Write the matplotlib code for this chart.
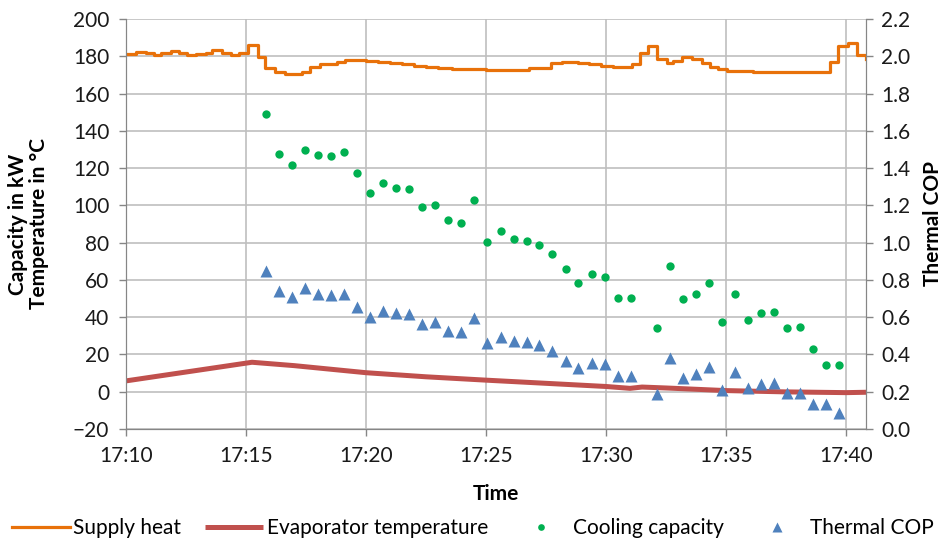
import matplotlib
matplotlib.use("Agg")
import matplotlib.pyplot as plt
import numpy as np

plt.rcParams['font.family'] = ['Lato', 'DejaVu Sans']

# minutes after 17:10
heat_t = [0.0, 0.40, 0.82, 1.17, 1.44, 1.86, 2.21, 2.56, 2.90, 3.32, 3.60, 4.01, 4.36, 4.71,
          5.08, 5.51, 5.80, 6.22, 6.64, 7.33, 7.67, 8.08, 8.78, 9.13, 10.0, 10.5, 11.0, 11.5,
          12.0, 12.5, 13.0, 13.6, 14.3, 15.0, 16.1, 16.8, 17.7, 18.15, 18.85, 19.3, 19.8,
          20.3, 20.86, 21.07, 21.4, 21.76, 22.11, 22.53, 22.81, 23.15, 23.57, 23.99, 24.33,
          24.68, 25.03, 26.14, 29.33, 29.68, 30.1, 30.44, 30.83]
heat_kw = [181.0, 182.5, 182.0, 180.7, 181.6, 183.0, 182.0, 180.7, 181.4, 182.0, 183.2, 182.0,
           180.9, 182.0, 186.0, 179.4, 173.5, 171.5, 170.5, 171.3, 174.4, 175.8, 177.0, 178.0,
           177.6, 177.0, 176.3, 175.6, 175.0, 174.2, 173.8, 173.3, 173.0, 172.8, 172.6, 173.8,
           176.2, 177.1, 176.5, 175.6, 175.0, 174.5, 174.0, 175.8, 181.9, 185.6, 178.3, 176.2,
           177.6, 179.7, 178.3, 176.2, 174.4, 173.0, 171.9, 171.3, 177.0, 185.5, 186.9, 180.6,
           178.8]

evap_t = [0.0, 5.25, 7.0, 10.0, 12.5, 15.0, 17.5, 20.0, 21.0, 21.5, 22.5, 25.0, 27.5, 30.0, 30.83]
evap_c = [5.8, 15.8, 14.0, 10.2, 8.0, 6.2, 4.5, 2.8, 1.8, 2.5, 2.0, 0.6, -0.1, -0.5, -0.3]

meas_t = [5.83, 6.39, 6.93, 7.47, 8.01, 8.54, 9.10, 9.64, 10.18, 10.72, 11.26, 11.81, 12.35,
          12.89, 13.43, 13.97, 14.51, 15.05, 15.61, 16.15, 16.70, 17.22, 17.76, 18.32, 18.85,
          19.40, 19.95, 20.49, 21.03, 22.11, 22.65, 23.20, 23.74, 24.28, 24.82, 25.36, 25.90,
          26.45, 26.99, 27.53, 28.07, 28.61, 29.17, 29.71]
cooling_kw = [148.8, 127.4, 121.5, 129.5, 127.2, 126.4, 128.8, 117.3, 106.8, 112.1, 109.3,
              108.6, 98.9, 100.0, 92.3, 90.3, 103.0, 80.6, 86.3, 81.9, 81.0, 78.8, 74.0, 65.7,
              58.5, 63.0, 61.4, 50.3, 50.3, 34.2, 67.3, 49.7, 52.6, 58.2, 37.2, 52.4, 38.3,
              42.2, 42.8, 34.2, 34.5, 23.1, 14.2, 14.2]
cop = [0.849, 0.742, 0.71, 0.755, 0.726, 0.717, 0.722, 0.654, 0.599, 0.633, 0.62, 0.618, 0.563,
       0.572, 0.527, 0.519, 0.594, 0.461, 0.495, 0.47, 0.465, 0.449, 0.418, 0.366, 0.327,
       0.356, 0.349, 0.284, 0.284, 0.188, 0.381, 0.272, 0.295, 0.331, 0.209, 0.304, 0.218,
       0.243, 0.245, 0.193, 0.195, 0.132, 0.132, 0.084]

xticks = [0, 5, 10, 15, 20, 25, 30]
xlabels = ["17:10", "17:15", "17:20", "17:25", "17:30", "17:35", "17:40"]

fig = plt.figure(figsize=(9.45, 5.4), dpi=100)
ax = fig.add_axes([0.1333, 0.2056, 0.7831, 0.7592])
ax2 = ax.twinx()

grid_c = "#BFBFBF"
ax.set_axisbelow(True)
ax.grid(True, color=grid_c, lw=1.2)

l1, = ax.step(heat_t, heat_kw, where="post", color="#E8710A", lw=2.3, label="Supply heat")
l2, = ax.plot(evap_t, evap_c, color="#C0504D", lw=3.6, label="Evaporator temperature",
              solid_capstyle="butt")
l3, = ax.plot(meas_t, cooling_kw, "o", color="#00B050", ms=6, mec="none", label="Cooling capacity")
l4, = ax2.plot(meas_t, cop, "^", color="#4F81BD", ms=9, mec="none", label="Thermal COP")

ax.set_xlim(0, 30.83)
ax.set_ylim(-20, 200)
ax.set_yticks(np.arange(-20, 201, 20))
ax2.set_ylim(0, 2.2)
ax2.set_yticks(np.arange(0, 2.21, 0.2))
ax2.set_yticklabels([f"{v:.1f}" for v in np.arange(0, 2.21, 0.2)])
ax.set_xticks(xticks)
ax.set_xticklabels(xlabels)

for a in (ax, ax2):
    for s in a.spines.values():
        s.set_color("#868686")
    a.tick_params(colors="#868686", labelcolor="#1a1a1a", labelsize=15, length=5, width=1)
ax.spines["top"].set_visible(False)
ax2.spines["top"].set_visible(False)
ax.tick_params(axis="x", pad=7)
ax.tick_params(axis="y", pad=7)
ax2.tick_params(axis="y", pad=6)

ax.set_xlabel("Time", fontsize=15, fontweight="bold", labelpad=13)
ax.set_ylabel("Capacity in kW\nTemperature in °C", fontsize=15, fontweight="bold",
              labelpad=17, linespacing=1.1)
ax2.set_ylabel("Thermal COP", fontsize=15, fontweight="bold", labelpad=9)

fig.legend(handles=[l1, l2, l3, l4], loc="center", bbox_to_anchor=(0.5, 0.022), ncol=4,
           frameon=False, fontsize=15, handlelength=2.8, handletextpad=0.15,
           columnspacing=1.15, markerscale=0.8)

fig.savefig("out.png", dpi=100)
